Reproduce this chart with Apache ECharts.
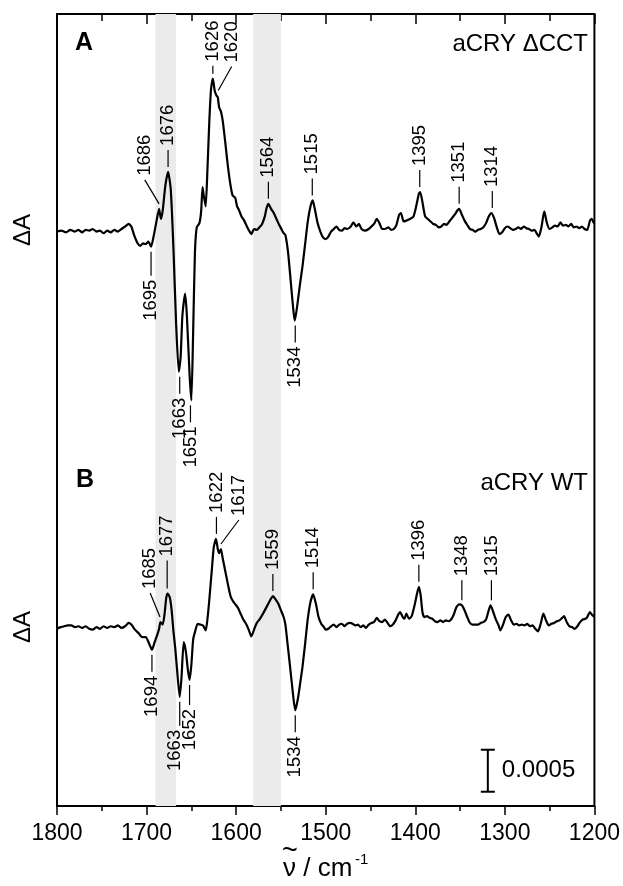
<!DOCTYPE html>
<html>
<head>
<meta charset="utf-8">
<script src="https://cdn.jsdelivr.net/npm/echarts@6/dist/echarts.min.js"></script>
<style>
  html, body { margin: 0; padding: 0; background: #fff; }
  #main { width: 623px; height: 886px; }
</style>
</head>
<body>
<div id="main"></div>
<script>
// 差谱数据: [波数 cm-1, ΔA (×1e-4)]
const specA = [
  [1800, 0], [1795, 0.1], [1790, -0.1], [1785, 0.2], [1780, 0], [1776, 0.2], [1772, -0.1],
  [1768, 0.2], [1764, 0.1], [1760, 0.3], [1756, 0], [1752, 0.1], [1748, -0.2], [1744, 0.1],
  [1740, -0.1], [1736, 0.2], [1732, 0], [1728, 0.3], [1724, 0.6], [1720, 0.9], [1717, 0.6],
  [1714, -0.4], [1710, -1.4], [1707, -1.7], [1704, -1.4], [1701, -1.5], [1698, -1.2], [1695, -1.8],
  [1692, -0.5], [1689, 1.2], [1686, 2.7], [1684, 1.5], [1682, 2.5], [1679, 5.5], [1676, 7.1],
  [1673, 5.0], [1670, -2.0], [1667, -11], [1664, -16.7], [1662, -15], [1660, -10], [1657, -7.4],
  [1655, -10], [1652, -17], [1650, -20.1], [1648, -12], [1646, -2.5], [1644, 0.5], [1641, 1.0],
  [1639, 2.5], [1637.5, 5.3], [1636, 4.2], [1634, 3.0], [1632, 7.5], [1630, 13], [1628, 17],
  [1626, 18.2], [1624, 16.8], [1622, 16.2], [1620.5, 16.0], [1619, 14.8], [1617, 14.3], [1615, 13.2],
  [1612, 10.5], [1610, 8.5], [1607, 6.0], [1604, 4.3], [1601, 4.0], [1599, 3.0], [1597, 2.6],
  [1594, 1.8], [1591, 1.3], [1588, 0.6], [1585, 0], [1583, -0.3], [1580, 0.3], [1577, 0.2],
  [1574, 0.5], [1571, 0.9], [1568, 1.8], [1566, 2.8], [1564, 3.3], [1561, 2.7], [1558, 2.2],
  [1555, 1.5], [1552, 0.8], [1549, 0.2], [1547, -0.2], [1545, -0.4], [1542, -2.5], [1539, -6.0],
  [1536, -9.5], [1534.5, -10.6], [1532, -9.0], [1529, -6.5], [1526, -4.2], [1523, -1.5], [1520, 1.2],
  [1517, 3.0], [1514.5, 3.7], [1512, 2.6], [1509, 1.0], [1506, 0], [1503, -0.7], [1500, -0.9],
  [1497, -0.6], [1494, 0], [1491, 0.3], [1488, 0.6], [1485, 0.2], [1482, 0.1], [1479, 0.4],
  [1476, 0.3], [1472, 0.6], [1469, 1.1], [1466, 0.6], [1463, 0.9], [1460, 0.3], [1456, 0.1],
  [1452, 0.3], [1449, 0.6], [1446, 0.9], [1443, 1.5], [1440, 1.0], [1437, 0.3], [1434, 0.3],
  [1430, 0.5], [1427, 0.2], [1424, 0.3], [1421, 0.8], [1418, 2.0], [1416, 2.2], [1413, 1.2],
  [1410, 1.3], [1406, 1.5], [1402, 1.8], [1399, 3.0], [1396, 4.5], [1394.5, 4.7], [1392, 3.5],
  [1389, 1.8], [1386, 1.5], [1383, 1.2], [1380, 0.9], [1377, 0.8], [1374, 0.5], [1371, 0.6],
  [1368, 0.9], [1365, 0.8], [1362, 1.2], [1359, 1.6], [1356, 2.0], [1353, 2.5], [1351, 2.7],
  [1348, 2.0], [1345, 1.3], [1342, 0.8], [1339, 0.3], [1336, 0.2], [1333, 0], [1330, 0.2],
  [1327, 0.3], [1324, 0.5], [1321, 1.0], [1318, 1.8], [1315, 2.2], [1312, 1.6], [1309, 0.5],
  [1306, -0.3], [1303, -0.1], [1300, 0.4], [1297, 0.6], [1294, 0.4], [1291, 0.2], [1288, 0.3],
  [1285, 0.5], [1282, 0.3], [1279, 0.6], [1276, 0.4], [1273, 0.3], [1270, 0.1], [1267, 0.2],
  [1264, -0.3], [1262, -0.6], [1259, 0.6], [1256, 2.4], [1253, 1.0], [1250, 0.3], [1247, 0.5],
  [1244, 0.7], [1241, 0.6], [1238, 1.1], [1235, 0.7], [1232, 0.8], [1229, 0.6], [1226, 0.9],
  [1223, 0.5], [1220, 0.6], [1217, 0.4], [1214, 0.6], [1211, 0.3], [1208, 0.2], [1205, 1.3],
  [1203, 1.5], [1201, 1.1], [1200, 1.0]
]

const specB = [
  [1800, -0.2], [1796, 0], [1792, 0.1], [1788, 0.2], [1784, 0.2], [1780, 0], [1776, 0.1],
  [1772, -0.1], [1768, 0.1], [1764, -0.2], [1760, -0.3], [1756, 0], [1752, -0.2], [1748, 0.1],
  [1744, -0.1], [1740, 0.1], [1736, 0], [1732, 0.2], [1728, -0.1], [1724, 0.1], [1720, 0.5],
  [1717, 0.3], [1713, -0.3], [1709, -0.7], [1705, -1.2], [1701, -1.2], [1697, -2.0], [1694, -2.7],
  [1691, -1.8], [1688, -0.9], [1686, -0.2], [1684.5, 0.6], [1682, 0.3], [1680, 1.5], [1678, 3.5],
  [1676.5, 4.0], [1674, 3.5], [1672, 2.0], [1670, -0.5], [1668, -2.5], [1666, -5.0], [1663, -8.3],
  [1661, -6.0], [1658.5, -1.8], [1656, -3.0], [1654, -5.0], [1652, -6.3], [1650, -4.5], [1648, -1.5],
  [1646, -0.6], [1643, 0.4], [1640, 0.3], [1637, 0.2], [1634, -0.4], [1632, 1.0], [1630, 3.2],
  [1627, 7.0], [1625, 9.5], [1622.5, 10.5], [1620.5, 9.3], [1619, 8.8], [1617, 9.3], [1615, 8.2],
  [1612, 6.6], [1609, 5.0], [1606, 3.6], [1603, 3.0], [1600, 2.6], [1598, 2.3], [1595, 1.6],
  [1592, 0.9], [1589, 0.4], [1586, -0.3], [1583, -1.1], [1580, -0.3], [1577, 0.5], [1574, 0.9],
  [1570, 1.6], [1567, 2.2], [1564, 2.8], [1561, 3.4], [1559, 3.7], [1556, 3.3], [1553, 2.8],
  [1550, 2.0], [1547, 1.2], [1545, 0.3], [1543, -1.6], [1540, -4.5], [1537, -7.5], [1534, -9.9],
  [1531, -8.5], [1528, -6.3], [1526, -4.8], [1523, -2.0], [1520, 1.0], [1517, 3.0], [1514, 3.9],
  [1511, 2.8], [1508, 1.2], [1505, 0.4], [1502, 0], [1500, -0.3], [1497, -0.2], [1494, 0.1],
  [1491, 0.3], [1488, 0], [1485, 0.3], [1482, 0.4], [1479, 0.1], [1476, 0.4], [1473, 0.5],
  [1470, 0.4], [1467, 0.2], [1464, 0.3], [1461, 0], [1458, 0.2], [1455, -0.1], [1452, 0.3],
  [1449, 0.5], [1446, 0.6], [1443, 1.1], [1440, 0.7], [1437, 0.6], [1434, 0.9], [1431, 0.5],
  [1428, 0.1], [1425, 0.3], [1422, 0.8], [1419, 1.5], [1417, 1.8], [1414, 1.2], [1412, 1.0],
  [1410, 1.6], [1407, 1.0], [1404, 1.3], [1401, 2.5], [1398, 4.0], [1396, 4.8], [1394, 3.8],
  [1392, 1.8], [1390, 1.2], [1387, 1.3], [1384, 1.1], [1381, 1.0], [1378, 0.7], [1375, 0.6],
  [1372, 0.8], [1369, 0.6], [1366, 0.8], [1363, 0.7], [1360, 0.9], [1357, 1.5], [1354, 2.4],
  [1351, 2.7], [1348, 2.6], [1345, 2.0], [1342, 1.2], [1339, 0.5], [1336, 0.3], [1333, 0.3],
  [1330, 0.3], [1327, 0.5], [1324, 0.6], [1321, 0.9], [1318, 2.0], [1316, 2.6], [1313, 1.8],
  [1310, 0.9], [1307, 0.2], [1305, -0.4], [1302, 0.3], [1299, 1.2], [1296, 1.5], [1293, 0.8],
  [1290, 0.3], [1287, 0.4], [1284, 0.2], [1281, 0.3], [1278, 0.2], [1275, 0.4], [1272, 0.1],
  [1269, 0.2], [1266, -0.2], [1263, -0.5], [1260, 0.4], [1257, 1.6], [1254, 0.8], [1251, 0.2],
  [1248, 0.4], [1245, 0.5], [1242, 0.7], [1239, 0.8], [1236, 1.1], [1234, 1.3], [1231, 0.6],
  [1228, 0.1], [1225, 0], [1222, -0.2], [1219, 0.1], [1216, 0.6], [1213, 0.9], [1210, 1.0],
  [1208, 1.2], [1205, 1.8], [1203, 1.5], [1200, 1.2]
]

// 峰标注: [波数, 方向, 斜线终点波数, 短线长度, 文字左移 px]
const labelsA = [
  [1695, 'down', 0, 24], [1686, 'up', 1702, 24], [1676, 'up'], [1663, 'down'], [1651, 'down'],
  [1626, 'up', 0, 8], [1620, 'up', 1605, 24], [1564, 'up'], [1534, 'down'], [1515, 'up'],
  [1395, 'up'], [1351, 'up'], [1314, 'up']
]
const labelsB = [
  [1694, 'down'], [1685, 'up', 1696, 24], [1677, 'up', 0, 28], [1663, 'down', 0, 24, 5], [1652, 'down', 0, 20],
  [1622, 'up'], [1617, 'up', 1597, 24], [1559, 'up'], [1534, 'down'], [1514, 'up'],
  [1396, 'up'], [1348, 'up', 0, 20], [1315, 'up', 0, 20]
]

// 灰色区域 (cm-1)
const bands = [[1690, 1667], [1581, 1550]]
const xTicks = [1800, 1700, 1600, 1500, 1400, 1300, 1200]
// 两条谱线的纵向偏移 与 标尺 (0.0005 = 5)
const offsetA = 68.4
const offsetB = 21.3
const scaleBar = [1319, 1.7, 5]

const FONT = '"Liberation Sans", Arial, Helvetica, sans-serif'

function labelRenderer (spec, offset, labels) {
  return function (params, api) {
    const lab = labels[params.dataIndex]
    const wn = lab[0]
    const up = lab[1] === 'up'
    const textWn = lab[2] || wn
    const dash = lab[3] || 17
    const shift = lab[4] || 0
    let ext = up ? -Infinity : Infinity
    spec.forEach(p => {
      if (Math.abs(p[0] - wn) <= 2.5) ext = up ? Math.max(ext, p[1]) : Math.min(ext, p[1])
    })
    const p0 = api.coord([wn, ext + offset])
    const tx = api.coord([textWn, 0])[0]
    const s = up ? -1 : 1
    const y0 = p0[1] + s * 5
    const y1 = y0 + s * dash
    return {
      type: 'group',
      children: [
        { type: 'line', shape: { x1: p0[0], y1: y0, x2: tx, y2: y1 }, style: { stroke: '#000', lineWidth: 1.2 } },
        {
          type: 'text',
          x: tx - shift,
          y: y1 + s * 4,
          rotation: Math.PI / 2,
          style: { text: String(wn), fill: '#000', font: '18.5px ' + FONT, align: up ? 'left' : 'right', verticalAlign: 'middle' }
        }
      ]
    }
  }
}

const chart = echarts.init(document.getElementById('main'))

const xCommon = {
  type: 'value',
  min: 1200,
  max: 1800,
  interval: 100,
  inverse: true,
  axisLine: { show: false },
  splitLine: { show: false },
  minorSplitLine: { show: false }
}

const option = {
  animation: false,
  backgroundColor: '#fff',
  grid: { left: 57, right: 26, top: 14, bottom: 80, show: true, borderColor: '#000', borderWidth: 2, backgroundColor: 'transparent' },
  xAxis: [
    Object.assign({}, xCommon, {
      position: 'bottom',
      axisTick: { inside: false, length: 9, lineStyle: { color: '#000', width: 1.5 } },
      minorTick: { show: true, splitNumber: 2, length: 5, lineStyle: { color: '#000', width: 1.5 } },
      axisLabel: {
        color: '#000', fontSize: 23, fontFamily: FONT, margin: 16,
        formatter: v => (xTicks.indexOf(v) >= 0 ? String(v) : '')
      }
    }),
    Object.assign({}, xCommon, {
      position: 'top',
      axisTick: { inside: true, length: 10, lineStyle: { color: '#000', width: 1.5 } },
      minorTick: { show: true, splitNumber: 2, length: 7, lineStyle: { color: '#000', width: 1.5 } },
      axisLabel: { show: false }
    })
  ],
  yAxis: {
    type: 'value',
    min: 0,
    max: 94.3,
    axisLine: { show: false },
    axisTick: { show: false },
    axisLabel: { show: false },
    splitLine: { show: false }
  },
  series: [
    {
      type: 'line',
      data: [],
      silent: true,
      markArea: {
        silent: true,
        itemStyle: { color: '#ebebeb' },
        data: bands.map(b => [{ xAxis: b[0] }, { xAxis: b[1] }])
      }
    },
    {
      name: 'aCRY ΔCCT',
      type: 'line',
      data: specA.map(p => [p[0], p[1] + offsetA]),
      showSymbol: false,
      smooth: 0.2,
      lineStyle: { color: '#000', width: 2.2 },
      z: 3
    },
    {
      name: 'aCRY WT',
      type: 'line',
      data: specB.map(p => [p[0], p[1] + offsetB]),
      showSymbol: false,
      smooth: 0.2,
      lineStyle: { color: '#000', width: 2.2 },
      z: 3
    },
    {
      type: 'custom',
      renderItem: labelRenderer(specA, offsetA, labelsA),
      data: labelsA.map(l => [l[0], 0]),
      clip: false,
      silent: true,
      z: 4
    },
    {
      type: 'custom',
      renderItem: labelRenderer(specB, offsetB, labelsB),
      data: labelsB.map(l => [l[0], 0]),
      clip: false,
      silent: true,
      z: 4
    },
    {
      // 标尺 0.0005
      type: 'custom',
      data: [scaleBar],
      silent: true,
      z: 4,
      renderItem: function (params, api) {
        const b = api.coord([scaleBar[0], scaleBar[1]])
        const t = api.coord([scaleBar[0], scaleBar[1] + scaleBar[2]])
        const st = { stroke: '#000', lineWidth: 2 }
        return {
          type: 'group',
          children: [
            { type: 'line', shape: { x1: b[0], y1: b[1], x2: t[0], y2: t[1] }, style: st },
            { type: 'line', shape: { x1: b[0] - 7, y1: b[1], x2: b[0] + 7, y2: b[1] }, style: st },
            { type: 'line', shape: { x1: t[0] - 7, y1: t[1], x2: t[0] + 7, y2: t[1] }, style: st },
            { type: 'text', x: b[0] + 14, y: (b[1] + t[1]) / 2, style: { text: '0.0005', fill: '#000', font: '24px ' + FONT, align: 'left', verticalAlign: 'middle' } }
          ]
        }
      }
    }
  ],
  graphic: [
    { type: 'text', x: 75, y: 43, style: { text: 'A', fill: '#000', font: 'bold 25px ' + FONT, align: 'left', verticalAlign: 'middle' } },
    { type: 'text', x: 76, y: 480, style: { text: 'B', fill: '#000', font: 'bold 25px ' + FONT, align: 'left', verticalAlign: 'middle' } },
    { type: 'text', x: 588, y: 44, style: { text: 'aCRY ΔCCT', fill: '#000', font: '24px ' + FONT, align: 'right', verticalAlign: 'middle' } },
    { type: 'text', x: 588, y: 483, style: { text: 'aCRY WT', fill: '#000', font: '24px ' + FONT, align: 'right', verticalAlign: 'middle' } },
    { type: 'text', x: 23, y: 230, rotation: Math.PI / 2, style: { text: 'ΔA', fill: '#000', font: '24px ' + FONT, align: 'center', verticalAlign: 'middle' } },
    { type: 'text', x: 23, y: 627, rotation: Math.PI / 2, style: { text: 'ΔA', fill: '#000', font: '24px ' + FONT, align: 'center', verticalAlign: 'middle' } },
    // 坐标轴标题 ν̃ / cm-1
    { type: 'text', x: 283, y: 869, style: { text: 'ν / cm', fill: '#000', font: '26px ' + FONT, align: 'left', verticalAlign: 'middle' } },
    { type: 'text', x: 290, y: 852, style: { text: '~', fill: '#000', font: '27px ' + FONT, align: 'center', verticalAlign: 'middle' } },
    { type: 'text', x: 355, y: 860, style: { text: '-1', fill: '#000', font: '15px ' + FONT, align: 'left', verticalAlign: 'middle' } }
  ]
}

chart.setOption(option)
window.addEventListener('resize', () => {
  chart.resize()
})
</script>
</body>
</html>
